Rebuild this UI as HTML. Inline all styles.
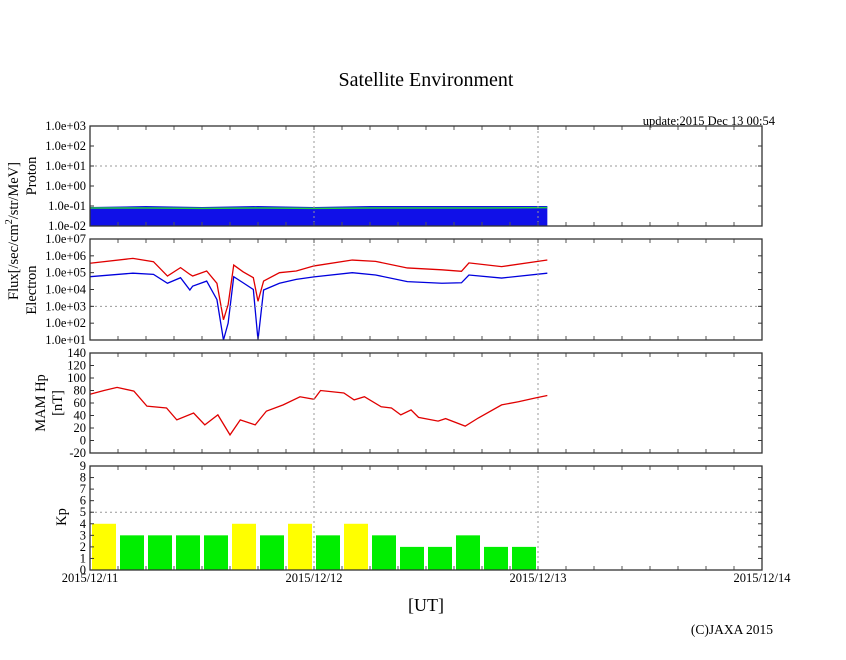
<!DOCTYPE html>
<html><head><meta charset="utf-8"><style>
body{margin:0;background:#fff}
svg text{font-family:"Liberation Serif",serif;fill:#000}
</style></head><body>
<svg id="c" width="846" height="655" xmlns="http://www.w3.org/2000/svg">
<text x="426" y="86" font-size="20" text-anchor="middle">Satellite Environment</text>
<text x="775" y="125" font-size="12.5" text-anchor="end">update:2015 Dec 13 00:54</text>
<text transform="translate(18,231) rotate(-90)" font-size="14.5" text-anchor="middle">Flux[/sec/cm<tspan dy="-6" font-size="10">2</tspan><tspan dy="6">/str/MeV]</tspan></text>
<text transform="translate(36,176) rotate(-90)" font-size="14.5" text-anchor="middle">Proton</text>
<text transform="translate(36,290) rotate(-90)" font-size="14.5" text-anchor="middle">Electron</text>
<text transform="translate(45,403) rotate(-90)" font-size="14.5" text-anchor="middle">MAM Hp</text>
<text transform="translate(62,403) rotate(-90)" font-size="14.5" text-anchor="middle">[nT]</text>
<text transform="translate(66,517) rotate(-90)" font-size="14.5" text-anchor="middle">Kp</text>
<text x="426" y="611" font-size="18" text-anchor="middle">[UT]</text>
<text x="773" y="634" font-size="13.5" text-anchor="end">(C)JAXA 2015</text>
<g id="g"></g>
</svg>
<script>
const dayLabels=["2015/12/11","2015/12/12","2015/12/13","2015/12/14"];
const protonTicks=["1.0e+03","1.0e+02","1.0e+01","1.0e+00","1.0e-01","1.0e-02"];
const electronTicks=["1.0e+07","1.0e+06","1.0e+05","1.0e+04","1.0e+03","1.0e+02","1.0e+01"];
const mamTicks=[140,120,100,80,60,40,20,0,-20];
const kpTicks=[9,8,7,6,5,4,3,2,1,0];
const kpValues=[4,3,3,3,3,4,3,4,3,4,3,2,2,3,2,2];
const mamHours=[0,1.5,2.9,4.7,6.1,8.2,9.3,11.1,12.3,13.7,15,16.1,17.7,18.9,20.7,22.5,24,24.7,27.2,28.3,29.4,31.2,32.3,33.3,34.4,35.2,37.3,38.1,40.2,41.6,44.1,45.9,47.7,49];
const mamValues=[74,80,85,79,55,52,33,44,25,41,9,33,25,47,57,70,66,80,76,65,70,54,52,41,49,37,31,35,23,36,57,62,68,72];
const elHours=[0,4.6,6.8,8.3,9.7,10.7,11,12.5,13.6,14.3,14.8,15.4,16.4,17.5,18,18.6,20.3,22.1,24,28.1,30.6,34,37.7,39.8,40.6,44.1,49];
const elRed=[5.56,5.85,5.65,4.8,5.3,4.9,4.8,5.1,4.37,2.2,3.1,5.45,5.05,4.7,3.3,4.5,5.0,5.1,5.4,5.75,5.67,5.28,5.17,5.08,5.58,5.36,5.75];
const elBlue=[4.76,4.97,4.9,4.37,4.7,3.97,4.2,4.5,3.4,1.0,2.0,4.76,4.4,4.0,1.0,3.97,4.37,4.6,4.75,5.0,4.86,4.47,4.37,4.4,4.86,4.68,4.97];
const protonHours=[0,6,12,18,24,30,36,42,49];
const protonBlueTop=[-1.05,-1.0,-1.05,-1.0,-1.05,-1.0,-1.0,-1.0,-1.0];
const protonGreen=[-1.1,-1.1,-1.12,-1.1,-1.12,-1.1,-1.1,-1.1,-1.08];

const NS="http://www.w3.org/2000/svg",G=document.getElementById('g');
function el(t,a){const e=document.createElementNS(NS,t);for(const k in a)e.setAttribute(k,a[k]);G.appendChild(e);return e;}
const X0=90,X1=762;
const xh=h=>X0+h*(X1-X0)/72;
const panels=[{t:126,b:226,lo:-2,hi:3},{t:239,b:340,lo:1,hi:7},{t:353,b:453,lo:-20,hi:140},{t:466,b:570,lo:0,hi:9}];
const ys=(p,v)=>p.b-(v-p.lo)*(p.b-p.t)/(p.hi-p.lo);
const P=panels;
let d=`M${xh(0)},${P[0].b}`;protonHours.forEach((h,i)=>d+=`L${xh(h)},${ys(P[0],protonBlueTop[i])}`);d+=`L${xh(49)},${P[0].b}Z`;
let e=el('path',{d,fill:'#1010e8'});

e=el('polyline',{points:protonHours.map((h,i)=>xh(h)+','+ys(P[0],protonGreen[i])).join(' '),fill:'none',stroke:'#22cc44','stroke-width':1.5});

[[elRed,'#e00000','electron-red-series'],[elBlue,'#0000dd','electron-blue-series']].forEach(([arr,c,n])=>{
 const l=el('polyline',{points:elHours.map((h,i)=>xh(h)+','+ys(P[1],arr[i])).join(' '),fill:'none',stroke:c,'stroke-width':1.3});
 });
e=el('polyline',{points:mamHours.map((h,i)=>xh(h)+','+ys(P[2],mamValues[i])).join(' '),fill:'none',stroke:'#e00000','stroke-width':1.3});

kpValues.forEach((v,i)=>{const b=el('rect',{x:xh(i*3)+2,y:ys(P[3],v),width:24,height:P[3].b-ys(P[3],v),fill:v>=4?'#ffff00':'#00ee00'});
 });
const grids=[[1],[3],[],[5]];
P.forEach((p,pi)=>{
 [24,48].forEach(h=>el('line',{x1:xh(h),x2:xh(h),y1:p.t,y2:p.b,stroke:'#999','stroke-dasharray':'2,3'}));
 grids[pi].forEach(v=>el('line',{x1:X0,x2:X1,y1:ys(p,v),y2:ys(p,v),stroke:'#999','stroke-dasharray':'2,3'}));
 for(let h=3;h<72;h+=3){el('line',{x1:xh(h),x2:xh(h),y1:p.t,y2:p.t+4,stroke:'#555'});el('line',{x1:xh(h),x2:xh(h),y1:p.b,y2:p.b-4,stroke:'#555'});}
 const f=el('rect',{x:X0,y:p.t,width:X1-X0,height:p.b-p.t,fill:'none',stroke:'#333','stroke-width':1.3});
 
});
function yt(p,vals,labs){vals.forEach((v,i)=>{const y=ys(p,v);el('line',{x1:X0,x2:X0+4,y1:y,y2:y,stroke:'#333'});el('line',{x1:X1,x2:X1-4,y1:y,y2:y,stroke:'#333'});
 const t=el('text',{x:86,y:y+4,'font-size':12.5,'text-anchor':'end'});t.textContent=labs[i];
 });}
yt(P[0],[3,2,1,0,-1,-2],protonTicks);
yt(P[1],[7,6,5,4,3,2,1],electronTicks);
yt(P[2],mamTicks,mamTicks.map(String));
yt(P[3],kpTicks,kpTicks.map(String));
dayLabels.forEach((s,i)=>{const t=el('text',{x:xh(i*24),y:582,'font-size':12.5,'text-anchor':'middle'});t.textContent=s;
 });
</script>
</body></html>
